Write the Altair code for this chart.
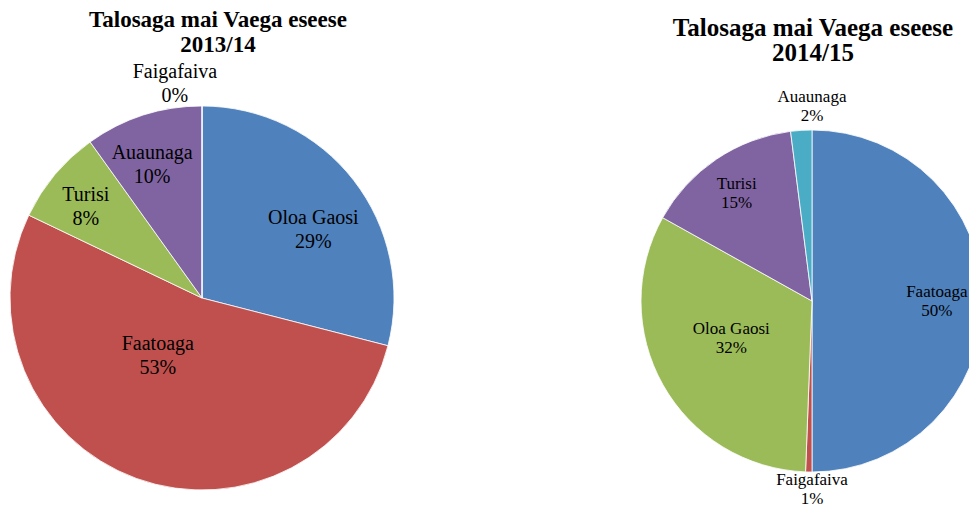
import altair as alt
import pandas as pd

# ---- data ----
categories_1314 = ["Oloa Gaosi", "Faatoaga", "Turisi", "Auaunaga", "Faigafaiva"]
shares_1314 = [29.0, 53.1, 8.0, 9.9, 0.0]
pct_labels_1314 = ["29%", "53%", "8%", "10%", "0%"]

categories_1415 = ["Faatoaga", "Faigafaiva", "Oloa Gaosi", "Turisi", "Auaunaga"]
shares_1415 = [50.0, 0.6, 32.5, 14.9, 2.0]
pct_labels_1415 = ["50%", "1%", "32%", "15%", "2%"]

title_1314 = "Talosaga mai Vaega eseese\n2013/14"
title_1415 = "Talosaga mai Vaega eseese\n2014/15"

# ---- styling / label placement (Excel "best fit" look) ----
slice_colors = ["#4F81BD", "#C0504D", "#9BBB59", "#8064A2", "#4BACC6"]
# label distance as a fraction of the pie radius, and angular nudge in percent of the circle
label_radius_1314 = [0.68, 0.38, 0.77, 0.74, 1.125]
label_nudge_1314 = [1.75, 4.8, -0.5, -0.75, -2.0]
label_radius_1415 = [0.73, 1.105, 0.52, 0.77, 1.14]
label_nudge_1415 = [0.0, -0.3, 1.25, -0.25, 1.0]


def make_df(cats, vals, pcts, lrad, lnudge):
    return pd.DataFrame({
        "category": cats,
        "value": vals,
        "pct": pcts,
        "order": list(range(len(cats))),
        "label": [f"{c}\n{p}" for c, p in zip(cats, pcts)],
        "lfrac": lrad,
        "lnudge": lnudge,
    })


def pie(df, cx, cy, r, font, size, line_h):
    theta_scale = alt.Scale(domain=[0, 100])
    base = alt.Chart(df).transform_window(
        cum="sum(value)", sort=[alt.SortField("order", order="ascending")],
        frame=[None, 0],
    ).transform_calculate(
        start="datum.cum - datum.value",
        mid="datum.cum - datum.value / 2 + datum.lnudge",
        lr=f"datum.lfrac * {r}",
    )
    arcs = base.mark_arc(outerRadius=r, stroke="white", strokeWidth=0.8, clip=True).encode(
        x=alt.value(cx),
        y=alt.value(cy),
        theta=alt.Theta("start:Q", scale=theta_scale, stack=None),
        theta2="cum:Q",
        color=alt.Color("order:N", scale=alt.Scale(domain=[0, 1, 2, 3, 4], range=slice_colors), legend=None),
    )
    labels = base.mark_text(
        font=font, fontSize=size, lineBreak="\n", lineHeight=line_h,
        color="black", align="center", baseline="middle", dy=-line_h / 2,
    ).encode(
        x=alt.value(cx),
        y=alt.value(cy),
        theta=alt.Theta("mid:Q", scale=theta_scale, stack=None),
        radius=alt.Radius("lr:Q", scale=None),
        text="label:N",
    )
    return alt.layer(arcs, labels).resolve_scale(theta="independent")


def title(text, x, y, size):
    return alt.Chart(pd.DataFrame({"t": [text]})).mark_text(
        font="Liberation Serif", fontSize=size, fontWeight="bold",
        lineBreak="\n", lineHeight=25, align="center", baseline="middle", color="black",
        dy=-12.5,
    ).encode(text="t:N", x=alt.value(x), y=alt.value(y))


df1 = make_df(categories_1314, shares_1314, pct_labels_1314, label_radius_1314, label_nudge_1314)
df2 = make_df(categories_1415, shares_1415, pct_labels_1415, label_radius_1415, label_nudge_1415)

chart = alt.layer(
    pie(df1, 194, 290, 192, "Liberation Serif", 20, 24),
    pie(df2, 804, 293, 171, "Liberation Serif", 17, 19),
    title(title_1314, 210, 24, 23),
    title(title_1415, 805, 32.5, 25),
).properties(
    width=961, height=499,
    autosize=alt.AutoSizeParams(type="none"),
    padding=0,
).configure_view(stroke=None)

chart.save("out.html", embed_options={"renderer": "svg", "actions": False})
